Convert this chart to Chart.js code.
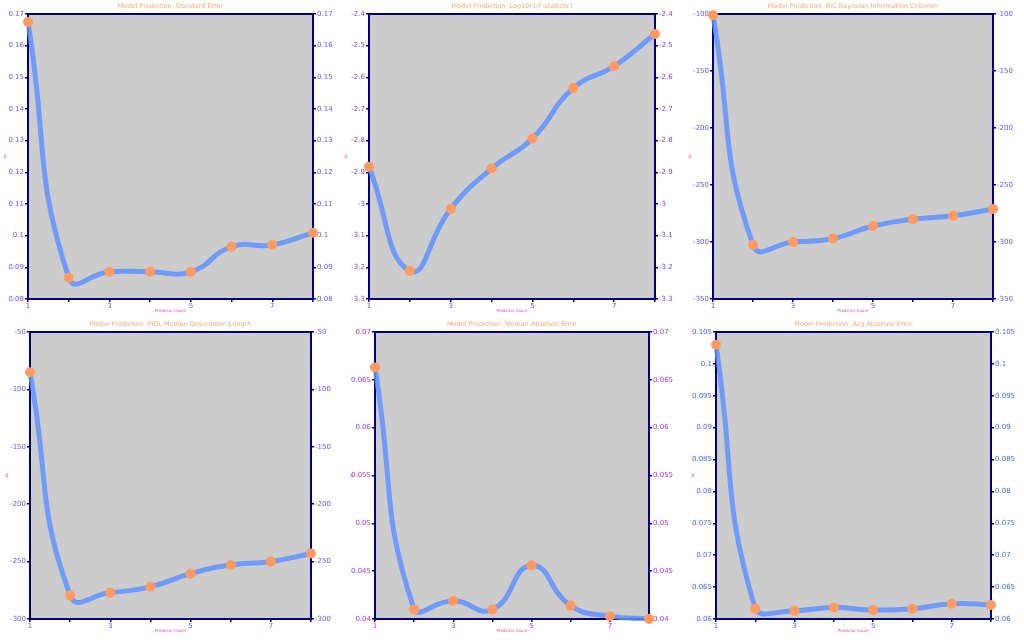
<!DOCTYPE html>
<html>
<head>
<meta charset="utf-8">
<script src="https://cdn.jsdelivr.net/npm/chart.js@4.4.1/dist/chart.umd.min.js"></script>
<style>
  body { margin: 0; width: 1024px; height: 640px; overflow: hidden; background: #fff; position: relative; }
  canvas { position: absolute; }
</style>
</head>
<body>
<script>
"use strict";
// data
const predictorCount = [1, 2, 3, 4, 5, 6, 7, 8];
const standardError = [0.1675, 0.0867, 0.0886, 0.0886, 0.0886, 0.0965, 0.0971, 0.1009];
const log10InvF = [-2.882, -3.211, -3.015, -2.888, -2.793, -2.634, -2.565, -2.463];
const bicValues = [-101, -302.5, -300, -297, -286, -280, -277, -271];
const mdlValues = [-85, -279.5, -277, -272, -260.5, -253, -250, -243];
const medianAbsError = [0.0663, 0.0410, 0.0419, 0.0410, 0.0456, 0.0414, 0.0403, 0.0400];
const avgAbsError = [0.1030, 0.0616, 0.0613, 0.0618, 0.0614, 0.0616, 0.0624, 0.0622];

const titles = [
  "Model Prediction  Standard Error",
  "Model Prediction  Log10(1/F-statistic)",
  "Model Prediction  BIC Bayesian Information Criterion",
  "Model Prediction  MDL Median Description Length",
  "Model Prediction  Median Absolute Error",
  "Model Prediction  Avg Absolute Error"
];
const yMins = [0.08, -3.3, -350, -300, 0.04, 0.06];
const yMaxs = [0.17, -2.4, -100, -50, 0.07, 0.105];
const ySteps = [0.01, 0.1, 50, 50, 0.005, 0.005];
const seriesList = [standardError, log10InvF, bicValues, mdlValues, medianAbsError, avgAbsError];

// plot area rectangles [left, right, top, bottom]
const plotRects = [
  [28, 313, 14, 299], [369, 655, 14, 299], [713, 993, 14, 299],
  [30, 311, 332, 619], [375, 649, 332, 619], [716, 991, 332, 619]
];
const tickColors = ["#6655ee", "#7744dd", "#6655ee", "#6655ee", "#aa33dd", "#4466ff"];

const LEFT_W = 30, RIGHT_W = 30, BOTTOM_H = 22, TOP_H = 16;
const navy = "#000080";

const framePlugin = {
  id: "frame",
  beforeDraw(chart) {
    const a = chart.chartArea, ctx = chart.ctx;
    ctx.save();
    ctx.fillStyle = "#cccccc";
    ctx.fillRect(a.left, a.top, a.right - a.left, a.bottom - a.top);
    ctx.restore();
  },
  beforeDatasetsDraw(chart) {
    const a = chart.chartArea, ctx = chart.ctx;
    ctx.save();
    ctx.strokeStyle = navy;
    ctx.lineWidth = 2;
    ctx.strokeRect(a.left, a.top, a.right - a.left, a.bottom - a.top);
    ctx.restore();
  }
};

function fmt(v) {
  return String(+v.toFixed(4));
}

function yScale(i, pos) {
  return {
    type: "linear",
    position: pos,
    min: yMins[i],
    max: yMaxs[i],
    afterFit: (s) => { s.width = pos === "left" ? LEFT_W : RIGHT_W; },
    border: { display: false },
    grid: { drawOnChartArea: false, drawTicks: true, tickLength: 3, color: navy, lineWidth: 1.5 },
    ticks: {
      stepSize: ySteps[i],
      color: tickColors[i],
      padding: 1,
      font: { family: "DejaVu Sans", size: 7 },
      callback: fmt
    },
    title: {
      display: pos === "left",
      text: "ss",
      color: "#ff3377",
      font: { family: "DejaVu Sans", size: 4 },
      padding: { top: 5, bottom: 0 }
    }
  };
}

titles.forEach((title, i) => {
  const [l, r, t, b] = plotRects[i];
  const w = r - l + LEFT_W + RIGHT_W;
  const h = b - t + TOP_H + BOTTOM_H;
  const canvas = document.createElement("canvas");
  canvas.width = w;
  canvas.height = h;
  canvas.style.left = (l - LEFT_W) + "px";
  canvas.style.top = (t - TOP_H) + "px";
  canvas.style.width = w + "px";
  canvas.style.height = h + "px";
  document.body.appendChild(canvas);

  const points = predictorCount.map((x, k) => ({ x: x, y: seriesList[i][k] }));

  new Chart(canvas.getContext("2d"), {
    type: "line",
    data: {
      datasets: [
        {
          // smooth curve, clipped to the plot area
          data: points,
          borderColor: "rgba(95, 145, 255, 0.85)",
          borderWidth: 5,
          tension: 0.5,
          pointRadius: 0,
          clip: 2,
          order: 2
        },
        {
          // markers, allowed to sit over the frame
          data: points,
          showLine: false,
          pointRadius: 5,
          pointBackgroundColor: "#ff9a60",
          pointBorderWidth: 0,
          pointBorderColor: "#ff9a60",
          clip: false,
          order: 1
        }
      ]
    },
    options: {
      responsive: false,
      animation: false,
      layout: { padding: 0 },
      plugins: {
        legend: { display: false },
        tooltip: { enabled: false },
        title: {
          display: true,
          text: title,
          color: "#ffaa77",
          font: { family: "DejaVu Sans", size: 6.5, weight: "normal", lineHeight: 1.2 },
          padding: { top: 4.5, bottom: 3.7 }
        }
      },
      scales: {
        x: {
          type: "linear",
          min: 1,
          max: 8,
          afterFit: (s) => { s.height = BOTTOM_H; },
          border: { display: false },
          grid: { drawOnChartArea: false, drawTicks: true, tickLength: 3, color: navy, lineWidth: 1.5 },
          ticks: {
            stepSize: 1,
            autoSkip: false,
            maxRotation: 0,
            padding: 0,
            color: tickColors[i],
            font: { family: "DejaVu Sans", size: 7 },
            callback: (v) => (v % 2 === 1 ? String(v) : "")
          },
          title: {
            display: true,
            text: "Predictor Count",
            color: "#ff4499",
            font: { family: "DejaVu Sans", size: 4 },
            padding: { top: 0, bottom: 7.5 }
          }
        },
        y: yScale(i, "left"),
        y2: yScale(i, "right")
      }
    },
    plugins: [framePlugin]
  });
});
</script>
</body>
</html>
